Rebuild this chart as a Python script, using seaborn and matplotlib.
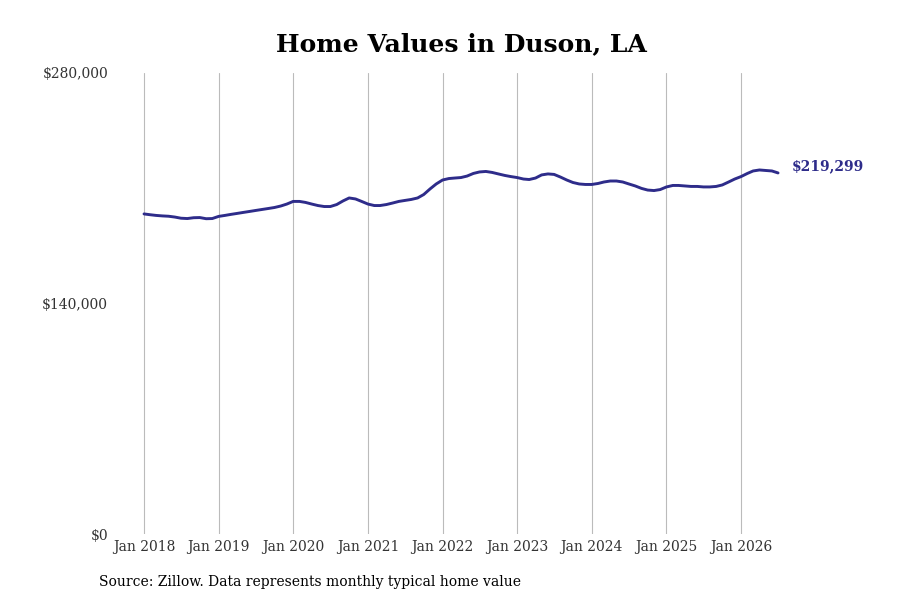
import numpy as np
import pandas as pd
import seaborn as sns
import matplotlib.pyplot as plt
from matplotlib.ticker import FuncFormatter

# monthly typical home value, Jan 2018 - Jul 2026
values_2018 = [194400, 193900, 193500, 193200, 193000, 192500, 191800, 191600, 192100, 192200, 191500, 191600]
values_2019 = [192900, 193500, 194100, 194700, 195300, 195900, 196500, 197100, 197700, 198300, 199200, 200400]
values_2020 = [202000, 202000, 201400, 200400, 199500, 198900, 198900, 200100, 202300, 204100, 203500, 202000]
values_2021 = [200400, 199500, 199500, 200100, 201000, 202000, 202600, 203200, 204100, 206200, 209600, 212600]
values_2022 = [215000, 215900, 216200, 216500, 217400, 219000, 219900, 220200, 219600, 218700, 217800, 217100]
values_2023 = [216500, 215600, 215300, 216200, 218100, 218700, 218400, 216800, 215000, 213500, 212600, 212300]
values_2024 = [212300, 212900, 213800, 214400, 214400, 213800, 212600, 211400, 209900, 208900, 208600, 209200]
values_2025 = [210800, 211700, 211700, 211400, 211100, 211100, 210800, 210800, 211100, 212000, 213800, 215600]
values_2026 = [217100, 219000, 220500, 221100, 220800, 220500, 219299]

home_values = (values_2018 + values_2019 + values_2020 + values_2021 + values_2022
               + values_2023 + values_2024 + values_2025 + values_2026)
months = pd.date_range('2018-01-01', periods=len(home_values), freq='MS')
df = pd.DataFrame({'date': months, 'value': home_values})

tick_years = list(range(2018, 2027))
tick_labels = [f'Jan {y}' for y in tick_years]
y_ticks = [0, 140000, 280000]

line_color = '#2e2c8a'

sns.set_style('white')
plt.rcParams['font.family'] = ['DejaVu Serif']

fig = plt.figure(figsize=(9, 6), dpi=100)
ax = fig.add_axes([115 / 900, 1 - 534 / 600, 755 / 900, 461 / 600])

sns.lineplot(data=df, x='date', y='value', ax=ax, color=line_color, linewidth=2.1)

ax.set_xlim(pd.Timestamp('2017-08-12'), pd.Timestamp('2027-09-24'))
ax.set_ylim(0, 280000)
ax.set_xticks([pd.Timestamp(f'{y}-01-01') for y in tick_years])
ax.set_xticklabels(tick_labels)
ax.set_yticks(y_ticks)
ax.yaxis.set_major_formatter(FuncFormatter(lambda v, p: f'${v:,.0f}'))
ax.tick_params(axis='both', length=0, labelsize=10, colors='#333333')
ax.tick_params(axis='y', pad=5)
ax.tick_params(axis='x', pad=4)
ax.set_xlabel('')
ax.set_ylabel('')
ax.grid(axis='x', color='#bbbbbb', linewidth=0.8)
ax.grid(axis='y', visible=False)
for s in ax.spines.values():
    s.set_visible(False)

last = df.iloc[-1]
ax.annotate(f"${last['value']:,.0f}", xy=(last['date'], last['value']),
            xytext=(10, 4.5), textcoords='offset points', color=line_color,
            fontsize=10, fontweight='bold', va='center', ha='left')

fig.text(461 / 900, 1 - 44 / 600, 'Home Values in Duson, LA', ha='center', va='center',
         fontsize=18, fontweight='bold', color='black')
fig.text(99 / 900, 1 - 582 / 600, 'Source: Zillow. Data represents monthly typical home value',
         ha='left', va='center', fontsize=10, color='black')

fig.savefig('out.png', dpi=100)
